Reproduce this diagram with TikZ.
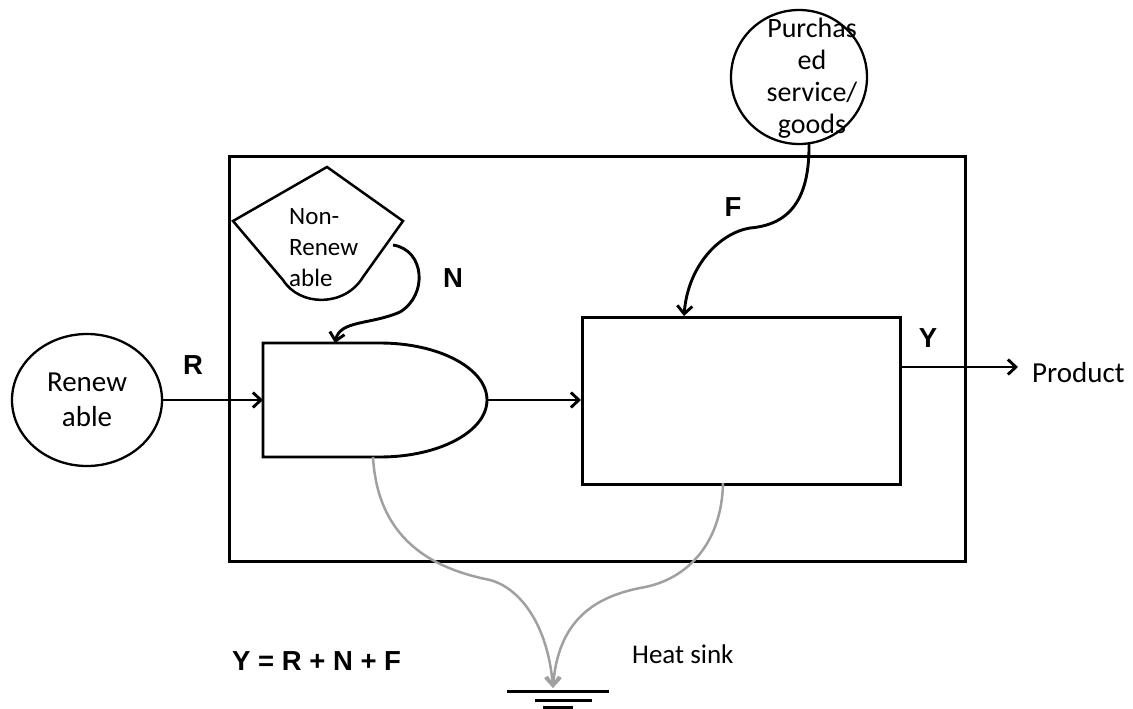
\documentclass[tikz,border=0pt]{standalone}
\usepackage{fontspec}
\setmainfont{Carlito}
\newfontfamily\labfont{Liberation Sans}
\usetikzlibrary{shapes.geometric,arrows.meta}
\definecolor{heatgray}{RGB}{160,160,160}
\begin{document}
\begin{tikzpicture}[x=1pt,y=-1pt,
  line/.style={line width=2.9pt},
  barb/.style={-{Straight Barb[length=8pt,width=15pt]}},
  heat/.style={draw=heatgray, line width=2.5pt, -{Straight Barb[length=9pt,width=14pt]}},
  lbl/.style={font=\labfont\bfseries\fontsize{27.5}{27.5}\selectfont, inner sep=0pt, anchor=base},
  box/.style={draw, inner sep=0pt, anchor=north west},
  plain/.style={inner sep=0pt, anchor=base west},
]
\useasboundingbox (0,0) rectangle (1133,709);

% outer system boundary
\node[box, line width=3.2pt, minimum width=736pt, minimum height=405pt] (outer) at (228,155) {};

% process box
\node[box, line width=3pt, minimum width=318pt, minimum height=167pt] (proc) at (581,316) {};

% storage tank
\draw[line] (263,343) -- (380,343) .. controls (439,343) and (487,368.5) .. (487,400)
  .. controls (487,431.5) and (439,457) .. (380,457) -- (263,457) -- cycle;
\coordinate (tankW) at (263,400);
\coordinate (tankE) at (487,400);
\coordinate (tankN) at (335,343);
\coordinate (tankS) at (373,457);

% non-renewable source
\draw[line width=2.5pt] (233,221) -- (327,167) -- (403,221) -- (363,277)
  .. controls (345,307) and (300,307) .. (283,280) -- cycle;
\node[font=\fontsize{25}{31}\selectfont, align=left, anchor=west, inner sep=0pt] (nrtxt) at (289,248) {Non-\\Renew\\able};
\coordinate (nrOut) at (393,245);

% renewable source
\node[draw, ellipse, line width=2.3pt, minimum width=150pt, minimum height=132pt, inner sep=0pt,
  font=\fontsize{29}{35}\selectfont, align=center] (ren) at (87,400) {Renew\\able};

% purchased source
\node[draw, ellipse, line width=2.3pt, minimum width=136pt, minimum height=134pt, inner sep=0pt] (pur) at (799,77) {};
\node[font=\fontsize{28}{32}\selectfont, align=center, inner sep=0pt] (purtxt) at (812,78) {Purchas\\ed\\service/\\goods};
\coordinate (fstart) at (809,143);
\coordinate (ftip) at (684,316);

% connectors
\draw[line, barb] (ren.east) -- (tankW);
\draw[line, barb] (tankE) -- (proc.west |- tankE);
\draw[line, barb] (nrOut) .. controls (425,250) and (428,295) .. (400,312)
  .. controls (370,325) and (340,320) .. (tankN);
\draw[line, barb] (fstart) .. controls (810,205) and (785,225) .. (750,228)
  .. controls (720,233) and (688,265) .. (ftip);
\coordinate (yout) at (899,367);
\coordinate (ytip) at (1018,367);
\draw[line, barb] (yout) -- (ytip);

% heat sink
\coordinate (gnd) at (553,688);
\coordinate (procS) at (723,483);
\draw[heat] (tankS) .. controls (378,545) and (440,570) .. (490,580)
  .. controls (520,588) and (548,625) .. (gnd);
\draw[heat] (procS) .. controls (722,540) and (690,580) .. (640,588)
  .. controls (595,597) and (558,620) .. (gnd);
\draw[line width=3pt] (507,691) -- (609,691);
\draw[line width=3pt] (535,700) -- (592,700);
\draw[line width=3pt] (543,707.5) -- (573,707.5);

% labels
\node[lbl] (lR) at (193,374) {R};
\node[lbl] (lN) at (453,287) {N};
\node[lbl] (lF) at (733,216) {F};
\node[lbl] (lY) at (928,347) {Y};
\node[lbl, anchor=base west] (eq) at (232,670) {Y = R + N + F};
\node[plain, font=\fontsize{27}{27}\selectfont] (heat) at (632,663) {Heat sink};
\node[plain, font=\fontsize{29}{29}\selectfont] (prod) at (1032,382) {Product};
\end{tikzpicture}
\end{document}
